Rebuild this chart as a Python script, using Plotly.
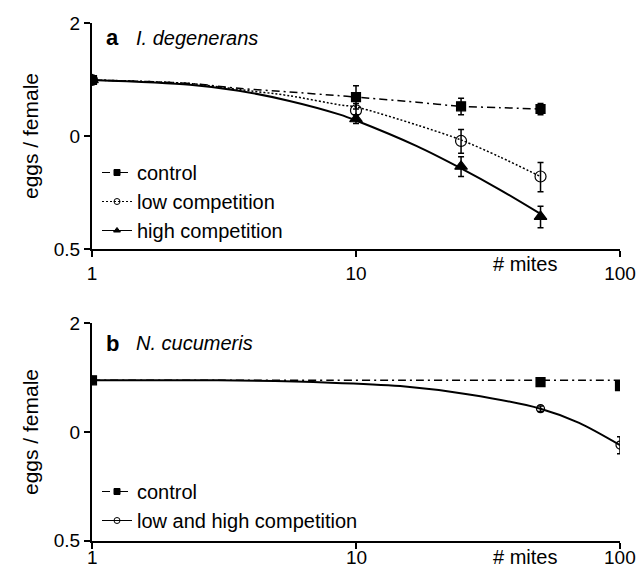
import math
import plotly.graph_objects as go

# ---------------- data ----------------
# Panel a: I. degenerans
a_x = [1, 10, 25, 50]
a_control = [1.41, 1.27, 1.20, 1.18]
a_control_err = [0, 0.09, 0.06, 0.04]
a_low = [1.41, 1.17, 0.97, 0.78]
a_low_err = [0, 0.05, 0.07, 0.07]
a_high = [1.41, 1.11, 0.83, 0.61]
a_high_err = [0, 0.03, 0.05, 0.04]

# fitted curves, panel a
a_fit_x = [1, 2.35, 3.6, 5.6, 8.7, 10, 17, 25, 35, 50]
a_fit_control = [1.41, 1.38, 1.34, 1.31, 1.28, 1.27, 1.23, 1.20, 1.19, 1.18]
a_fit_low = [1.41, 1.38, 1.33, 1.28, 1.21, 1.195, 1.07, 0.976, 0.88, 0.78]
a_fit_high = [1.41, 1.37, 1.32, 1.24, 1.14, 1.10, 0.94, 0.82, 0.72, 0.62]

# Panel b: N. cucumeris
b_x = [1, 50, 100]
b_control = [1.39, 1.375, 1.34]
b_control_err = [0, 0.01, 0.01]
b_comp = [1.39, 1.16, 0.92]
b_comp_err = [0, 0.02, 0.05]

b_fit_x = [1, 3, 8, 14.7, 26.8, 50, 70, 100]
b_fit_control = [1.39, 1.39, 1.39, 1.39, 1.39, 1.39, 1.39, 1.39]
b_fit_comp = [1.39, 1.39, 1.37, 1.34, 1.27, 1.16, 1.06, 0.92]

x_ticks = [1, 10, 100]
x_ticklabels = ["1", "10", "100"]
y_ticks = [0.5, 1, 2]
y_ticklabels = ["0.5", "0", "2"]

FONT = "Arial, Liberation Sans, sans-serif"
BLACK = "#000000"
DASHDOT = "8px,4px,2px,4px"
DOT = "2px,2px"

fig = go.Figure()


def curve(x, y, dash, width, xa, ya):
    fig.add_trace(go.Scatter(x=x, y=y, mode="lines",
                             line=dict(color=BLACK, width=width, dash=dash, shape="spline", smoothing=0.8),
                             showlegend=False, hoverinfo="skip", xaxis=xa, yaxis=ya))


def points(x, y, err, symbol, size, xa, ya):
    fig.add_trace(go.Scatter(x=x, y=y, mode="markers",
                             marker=dict(symbol=symbol, size=size, color=BLACK,
                                         line=dict(color=BLACK, width=1.2)),
                             error_y=dict(type="data", array=err, color=BLACK, thickness=1.5, width=3),
                             showlegend=False, xaxis=xa, yaxis=ya))


def legend_item(name, dash, width, symbol, size, legend):
    fig.add_trace(go.Scatter(x=[None], y=[None], mode="lines+markers", name=name,
                             line=dict(color=BLACK, width=width, dash=dash),
                             marker=dict(symbol=symbol, size=size, color=BLACK,
                                         line=dict(color=BLACK, width=1)),
                             legend=legend, xaxis="x", yaxis="y"))


# panel a
curve(a_fit_x, a_fit_high, "solid", 2, "x", "y")
curve(a_fit_x, a_fit_low, DOT, 1.5, "x", "y")
curve(a_fit_x, a_fit_control, DASHDOT, 1.5, "x", "y")
points(a_x, a_high, a_high_err, "triangle-up", 11, "x", "y")
points(a_x, a_low, a_low_err, "circle-open", 11, "x", "y")
points(a_x, a_control, a_control_err, "square", 9, "x", "y")

# panel b
curve(b_fit_x, b_fit_comp, "solid", 2, "x2", "y2")
curve(b_fit_x, b_fit_control, DASHDOT, 1.5, "x2", "y2")
points(b_x, b_comp, b_comp_err, "circle-open", 8, "x2", "y2")
points(b_x, b_control, b_control_err, "square", 9, "x2", "y2")

# legends
legend_item("control", DASHDOT, 1, "square", 6, "legend")
legend_item("low competition", DOT, 1, "circle-open", 6, "legend")
legend_item("high competition", "solid", 1, "triangle-up", 6, "legend")
legend_item("control", DASHDOT, 1, "square", 6, "legend2")
legend_item("low and high competition", "solid", 1, "circle-open", 6, "legend2")

W, H = 639, 569


def px(v):
    return v / W


def py(v):
    return 1 - v / H


x_dom = [px(92), px(620)]
ya_dom = [py(249), py(23)]
yb_dom = [py(540.7), py(323.3)]

axis_common = dict(type="log", showline=True, linecolor=BLACK, linewidth=2, ticks="outside", ticklen=6,
                   tickwidth=1.5, tickcolor=BLACK, showgrid=False, zeroline=False, automargin=False,
                   tickfont=dict(family=FONT, size=19, color=BLACK))

xaxis_cfg = dict(axis_common, range=[0, 2], tickvals=x_ticks, ticktext=x_ticklabels, domain=x_dom)
yaxis_cfg = dict(axis_common, range=[-0.30103, 0.30103], tickvals=y_ticks, ticktext=y_ticklabels,
                 title=dict(text="eggs / female", font=dict(family=FONT, size=21, color=BLACK), standoff=9))

fig.update_layout(
    width=W, height=H, margin=dict(l=0, r=0, t=0, b=0, autoexpand=False),
    paper_bgcolor="white", plot_bgcolor="white",
    font=dict(family=FONT, color=BLACK),
    xaxis=dict(xaxis_cfg, anchor="y"),
    # bottom panel tick labels sit closer to the axis in the reference; drawn as annotations below
    xaxis2=dict(xaxis_cfg, anchor="y2", ticklen=6, showticklabels=False),
    yaxis=dict(yaxis_cfg, domain=ya_dom, anchor="x"),
    yaxis2=dict(yaxis_cfg, domain=yb_dom, anchor="x2"),
    legend=dict(x=px(97), xanchor="left", y=py(250), yanchor="bottom", bgcolor="rgba(0,0,0,0)",
                font=dict(family=FONT, size=20, color=BLACK), itemwidth=30),
    legend2=dict(x=px(97), xanchor="left", y=py(540), yanchor="bottom", bgcolor="rgba(0,0,0,0)",
                 font=dict(family=FONT, size=20, color=BLACK), itemwidth=30),
    showlegend=True,
)

for tv, tl in zip(x_ticks, x_ticklabels):
    fig.add_annotation(xref="x2", yref="paper", x=math.log10(tv), y=py(557), text=tl, showarrow=False,
                       xanchor="center", yanchor="middle", font=dict(family=FONT, size=19, color=BLACK))

annos = [
    dict(text="<b>a</b>", x=104, y=38, size=22),
    dict(text="<i>I. degenerans</i>", x=134, y=38, size=20),
    dict(text="<b>b</b>", x=104, y=343, size=22),
    dict(text="<i>N. cucumeris</i>", x=134, y=343, size=20),
    dict(text="# mites", x=491, y=264, size=20),
    dict(text="# mites", x=491, y=557, size=20),
]
for a in annos:
    fig.add_annotation(xref="paper", yref="paper", x=px(a["x"]), y=py(a["y"]), text=a["text"], showarrow=False,
                       xanchor="left", yanchor="middle",
                       font=dict(family=FONT, size=a["size"], color=BLACK))

# remove the default 8px page margin so the figure fills the window exactly
fig.write_html("out.html", config={"displayModeBar": False},
               post_script="document.body.style.margin='0px';document.body.style.overflow='hidden';")
